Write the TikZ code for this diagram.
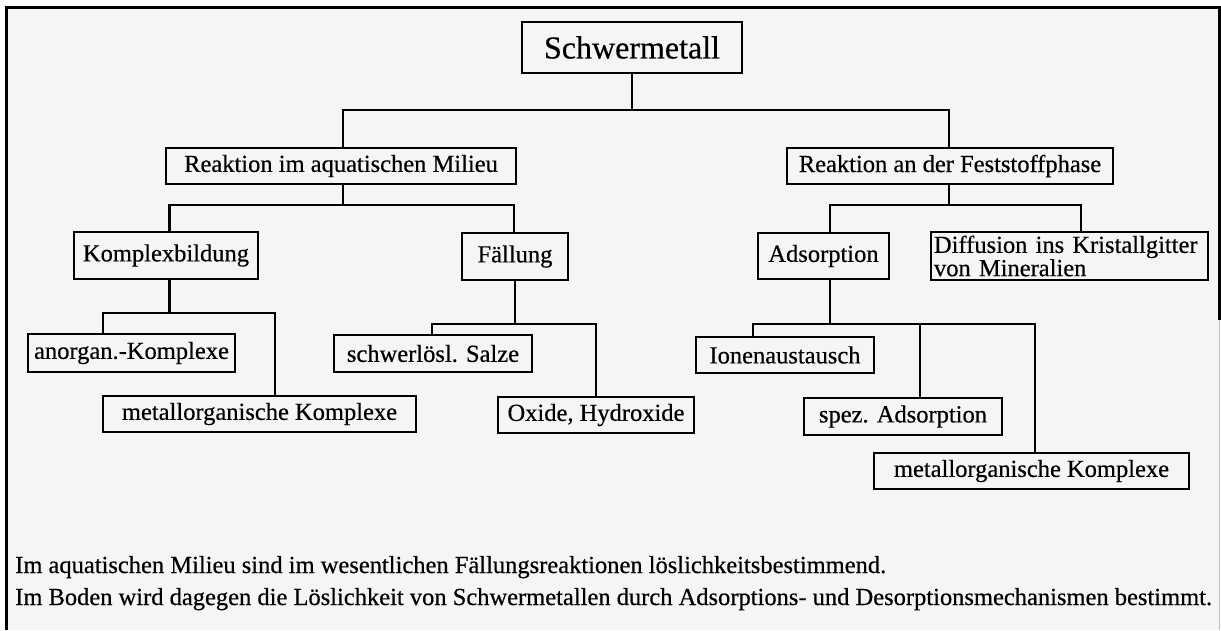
\documentclass[tikz,border=0pt]{standalone}
\usepackage{fontspec}
\setmainfont{Liberation Serif}[FakeBold=0.5]
\begin{document}
\begin{tikzpicture}[x=1pt,y=-1pt,
  box/.style={draw, line width=2.4pt, inner sep=0pt, anchor=center,
              font=\fontsize{24.5}{26}\selectfont},
  conn/.style={line width=2.2pt},
  note/.style={anchor=base west, inner sep=0pt, font=\fontsize{24.5}{26}\selectfont}
]
\useasboundingbox (0,0) rectangle (1221,630);
\fill[white] (0,0) rectangle (1221,630);
\fill[black!4] (6,7) rectangle (1219,630);
% frame
\draw[line width=3pt] (6,630) -- (6,7) -- (1219,7) -- (1219,320);
\draw[line width=1pt, black!25] (1219,320) -- (1219,630);

% junction heights
\path (0,110) coordinate (h1) (0,205) coordinate (h2) (0,313) coordinate (h3) (0,324) coordinate (h4);

% nodes
\node[box, minimum width=220pt, minimum height=51pt, font=\fontsize{32}{36}\selectfont] (S) at (632,47.5) {Schwermetall};
\node[box, minimum width=350pt, minimum height=36pt] (A) at (341,166) {Reaktion im aquatischen Milieu};
\node[box, minimum width=326pt, minimum height=36pt] (F) at (950,166) {Reaktion an der Feststoffphase};
\node[box, minimum width=184pt, minimum height=47pt] (K) at (166,255.5) {Komplexbildung};
\node[box, minimum width=106pt, minimum height=47pt] (Fa) at (515,256.5) {Fällung};
\node[box, minimum width=131pt, minimum height=46pt] (Ad) at (823.5,256) {Adsorption};
\node[box, minimum width=277pt, minimum height=48pt, text width=271pt, align=left,
      font=\fontsize{24.5}{22}\selectfont] (Di) at (1069.5,256) {Diffusion ins Kristallgitter\\von Mineralien};
\node[box, minimum width=207pt, minimum height=38pt] (an) at (131.5,353) {anorgan.-Komplexe};
\node[box, minimum width=313pt, minimum height=36pt] (mo1) at (259.5,414) {metallorganische Komplexe};
\node[box, minimum width=198pt, minimum height=37pt] (sch) at (433,353.5) {schwerlösl. Salze};
\node[box, minimum width=196pt, minimum height=36pt] (ox) at (596,415) {Oxide, Hydroxide};
\node[box, minimum width=178pt, minimum height=36pt] (io) at (785,355) {Ionenaustausch};
\node[box, minimum width=198pt, minimum height=37pt] (sp) at (903,416.5) {spez. Adsorption};
\node[box, minimum width=315pt, minimum height=36pt] (mo2) at (1031.5,471) {metallorganische Komplexe};

% connectors level 1
\draw[conn] (S.south) -- (S.south |- h1);
\draw[conn] ([xshift=2pt]A.north) -- ([xshift=2pt]A.north |- h1) -- ([xshift=-1pt]F.north |- h1) -- ([xshift=-1pt]F.north);
% level 2
\draw[conn] ([xshift=2pt]A.south) -- ([xshift=2pt]A.south |- h2);
\draw[conn] ([xshift=3.5pt]K.north) -- ([xshift=3.5pt]K.north |- h2) -- ([xshift=-1pt]Fa.north |- h2) -- ([xshift=-1pt]Fa.north);
\draw[conn] ([xshift=-1pt]F.south) -- ([xshift=-1pt]F.south |- h2);
\draw[conn] ([xshift=6.5pt]Ad.north) -- ([xshift=6.5pt]Ad.north |- h2) -- ([xshift=11.5pt]Di.north |- h2) -- ([xshift=11.5pt]Di.north);
% level 3
\draw[conn] ([xshift=3.5pt]K.south) -- ([xshift=3.5pt]K.south |- h3);
\draw[conn] ([xshift=-28.5pt]an.north) -- ([xshift=-28.5pt]an.north |- h3) -- ([xshift=15.5pt]mo1.north |- h3) -- ([xshift=15.5pt]mo1.north);
\draw[conn] (Fa.south) -- (Fa.south |- h4);
\draw[conn] ([xshift=-1pt]sch.north) -- ([xshift=-1pt]sch.north |- h4) -- (ox.north |- h4) -- (ox.north);
\draw[conn] ([xshift=6.5pt]Ad.south) -- ([xshift=6.5pt]Ad.south |- h4);
\draw[conn] ([xshift=-32pt]io.north) -- ([xshift=-32pt]io.north |- h4) -- ([xshift=3.5pt]mo2.north |- h4) -- ([xshift=3.5pt]mo2.north);
\draw[conn] ([xshift=17pt]sp.north) -- ([xshift=17pt]sp.north |- h4);

% notes
\node[note] (t1) at (15,573) {Im aquatischen Milieu sind im wesentlichen Fällungsreaktionen löslichkeitsbestimmend.};
\node[note] (t2) at (15,605) {Im Boden wird dagegen die Löslichkeit von Schwermetallen durch Adsorptions- und Desorptionsmechanismen bestimmt.};
\end{tikzpicture}
\end{document}
